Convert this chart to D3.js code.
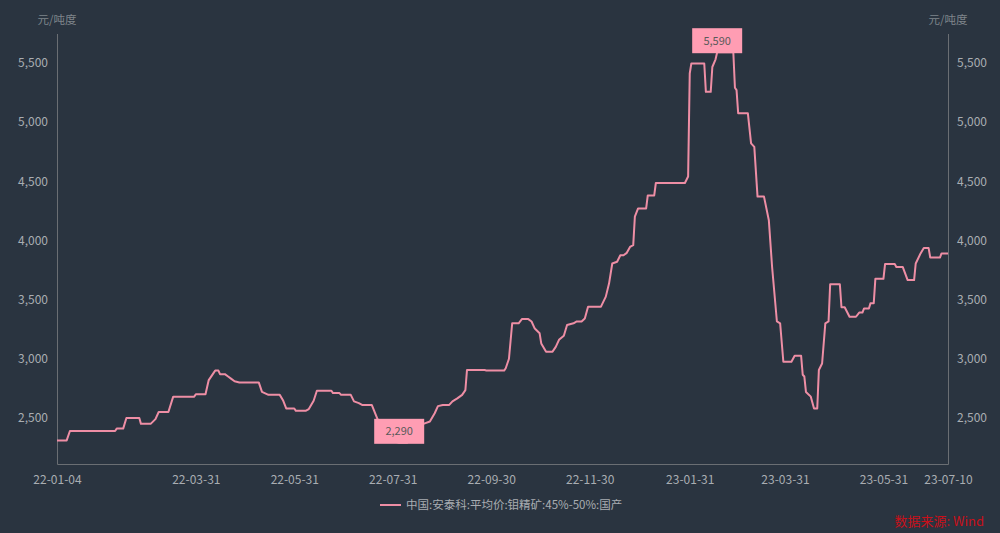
<!DOCTYPE html>
<html>
<head>
<meta charset="utf-8">
<script src="https://cdn.jsdelivr.net/npm/d3@7"></script>
<style>
  html, body { margin: 0; padding: 0; background: #2a3440; }
  svg { display: block; }
  text { font-family: "Noto Sans CJK SC", "Noto Sans", sans-serif; }
</style>
</head>
<body>
<svg id="chart" width="1000" height="533"></svg>
<script>
// ---- Data ----
const seriesName = "中国:安泰科:平均价:钼精矿:45%-50%:国产";
const unitLabel = "元/吨度";
const sourceLabel = "数据来源: Wind";

const dates = [
  "2022-01-04","2022-01-10","2022-01-12","2022-02-09","2022-02-10","2022-02-14","2022-02-16","2022-02-24",
  "2022-02-25","2022-03-03","2022-03-06","2022-03-08","2022-03-14","2022-03-17","2022-03-30","2022-03-31",
  "2022-04-06","2022-04-08","2022-04-10","2022-04-12","2022-04-14","2022-04-15","2022-04-18","2022-04-20",
  "2022-04-22","2022-04-24","2022-04-27","2022-05-09","2022-05-11","2022-05-15","2022-05-22","2022-05-24",
  "2022-05-26","2022-05-31","2022-06-01","2022-06-07","2022-06-09","2022-06-12","2022-06-14","2022-06-23",
  "2022-06-24","2022-06-28","2022-06-29","2022-07-05","2022-07-07","2022-07-10","2022-07-12","2022-07-18",
  "2022-07-21","2022-07-26","2022-07-30","2022-08-04","2022-08-09","2022-08-14","2022-08-19","2022-08-23",
  "2022-08-26","2022-08-28","2022-08-31","2022-09-04","2022-09-06","2022-09-09","2022-09-12","2022-09-14",
  "2022-09-15","2022-09-26","2022-09-27","2022-10-08","2022-10-09","2022-10-11","2022-10-13","2022-10-17",
  "2022-10-19","2022-10-23","2022-10-25","2022-10-27","2022-10-30","2022-10-31","2022-11-03","2022-11-07",
  "2022-11-09","2022-11-11","2022-11-14","2022-11-16","2022-11-20","2022-11-22","2022-11-25","2022-11-27",
  "2022-11-29","2022-12-07","2022-12-10","2022-12-12","2022-12-14","2022-12-17","2022-12-19","2022-12-21",
  "2022-12-23","2022-12-25","2022-12-27","2022-12-28","2022-12-30","2023-01-04","2023-01-05","2023-01-09",
  "2023-01-10","2023-01-28","2023-01-30","2023-01-31","2023-02-01","2023-02-09","2023-02-10","2023-02-13",
  "2023-02-14","2023-02-16","2023-02-17","2023-02-27","2023-02-28","2023-03-01","2023-03-02","2023-03-08",
  "2023-03-10","2023-03-12","2023-03-14","2023-03-18","2023-03-21","2023-03-23","2023-03-26","2023-03-28",
  "2023-03-30","2023-04-04","2023-04-06","2023-04-10","2023-04-11","2023-04-12","2023-04-13","2023-04-16",
  "2023-04-18","2023-04-20","2023-04-21","2023-04-23","2023-04-25","2023-04-27","2023-04-28","2023-05-04",
  "2023-05-05","2023-05-07","2023-05-10","2023-05-14","2023-05-16","2023-05-18","2023-05-19","2023-05-22",
  "2023-05-23","2023-05-25","2023-05-26","2023-05-31","2023-06-01","2023-06-07","2023-06-08","2023-06-12",
  "2023-06-15","2023-06-19","2023-06-20","2023-06-23","2023-06-25","2023-06-28","2023-06-29","2023-07-05",
  "2023-07-06","2023-07-10"
];
const prices = [
  2310,2310,2390,2390,2410,2410,2500,2500,
  2450,2450,2490,2550,2550,2680,2680,2700,
  2700,2820,2860,2900,2900,2870,2870,2850,
  2830,2810,2800,2800,2720,2695,2695,2650,
  2580,2580,2560,2560,2575,2645,2730,2730,
  2710,2710,2695,2695,2640,2625,2610,2610,
  2510,2350,2310,2290,2290,2400,2450,2470,
  2540,2600,2610,2610,2640,2665,2695,2735,
  2905,2905,2900,2900,2920,3000,3300,3300,
  3335,3335,3315,3255,3215,3130,3060,3060,
  3100,3160,3195,3285,3300,3315,3315,3340,
  3440,3440,3525,3635,3805,3820,3875,3875,
  3895,3945,3960,4200,4270,4270,4380,4380,
  4485,4485,4540,5410,5495,5495,5255,5255,
  5465,5530,5590,5590,5290,5270,5075,5075,
  4820,4790,4370,4370,4170,3780,3315,3300,
  2975,2975,3025,3025,2865,2850,2720,2680,
  2580,2580,2905,2960,3300,3315,3630,3630,
  3435,3435,3355,3355,3390,3390,3425,3425,
  3470,3470,3675,3675,3800,3800,3775,3775,
  3665,3665,3805,3890,3935,3935,3855,3855,
  3890,3890
];
const xTickLabels = ["22-01-04","22-03-31","22-05-31","22-07-31","22-09-30","22-11-30","23-01-31","23-03-31","23-05-31","23-07-10"];
const yTickValues = [2500, 3000, 3500, 4000, 4500, 5000, 5500];

// ---- Chart ----
const W = 1000, H = 533;
const margin = { left: 57, right: 52, top: 33.5, bottom: 69 };
const parse = d3.timeParse("%Y-%m-%d");
const parseTick = d3.timeParse("%y-%m-%d");
const data = dates.map((d, i) => ({ date: parse(d), value: prices[i] }));

const svg = d3.select("#chart");
svg.append("rect").attr("width", W).attr("height", H).attr("fill", "#2a3440");

const x = d3.scaleTime()
  .domain([parse("2022-01-04"), parse("2023-07-10")])
  .range([margin.left, W - margin.right]);
const y = d3.scaleLinear()
  .domain([2111, 5748])
  .range([H - margin.bottom, margin.top]);

const axisColor = "#6a6e73";
const labelColor = "#a9adb2";

const gL = svg.append("g").attr("transform", `translate(${margin.left},0)`)
  .call(d3.axisLeft(y).tickValues(yTickValues).tickFormat(d3.format(",")).tickSize(0).tickPadding(9));
const gR = svg.append("g").attr("transform", `translate(${W - margin.right},0)`)
  .call(d3.axisRight(y).tickValues(yTickValues).tickFormat(d3.format(",")).tickSize(0).tickPadding(9));
const gB = svg.append("g").attr("transform", `translate(0,${H - margin.bottom})`)
  .call(d3.axisBottom(x).tickValues(xTickLabels.map(parseTick)).tickFormat(d3.timeFormat("%y-%m-%d")).tickSize(0).tickPadding(11));

[gL, gR, gB].forEach(g => {
  g.select(".domain").attr("stroke", axisColor).attr("stroke-width", 1);
  g.selectAll("text").attr("fill", labelColor).attr("font-size", 12)
    .style("font-family", '"Noto Sans CJK SC", sans-serif');
});

svg.append("text").attr("x", margin.left).attr("y", 24).attr("text-anchor", "middle")
  .attr("fill", "#7f858b").attr("font-size", 11.5).text(unitLabel);
svg.append("text").attr("x", W - margin.right).attr("y", 24).attr("text-anchor", "middle")
  .attr("fill", "#7f858b").attr("font-size", 11.5).text(unitLabel);

const lineColor = "#ee8ea5";
const line = d3.line().x(d => x(d.date)).y(d => y(d.value)).curve(d3.curveLinear);
svg.append("path").datum(data).attr("d", line)
  .attr("fill", "none").attr("stroke", lineColor).attr("stroke-width", 2)
  .attr("stroke-linejoin", "round");

const maxD = data.reduce((a, b) => (b.value > a.value ? b : a));
const minD = data.reduce((a, b) => (b.value < a.value ? b : a));
[maxD, minD].forEach(d => {
  const cx = x(d.date), cy = y(d.value);
  const bw = 50, bh = 25;
  const g = svg.append("g");
  g.append("rect").attr("x", cx - bw / 2).attr("y", cy - bh + 1).attr("width", bw).attr("height", bh)
    .attr("fill", "#ff9db3");
  g.append("text").attr("x", cx).attr("y", cy - bh / 2 + 5).attr("text-anchor", "middle")
    .attr("fill", "#5a5a5a").attr("font-size", 11).text(d3.format(",")(d.value));
});

const lg = svg.append("g").attr("transform", "translate(380,505)");
lg.append("line").attr("x1", 0).attr("x2", 21).attr("y1", 0).attr("y2", 0)
  .attr("stroke", lineColor).attr("stroke-width", 2);
lg.append("text").attr("x", 26).attr("y", 4).attr("fill", labelColor).attr("font-size", 11.5).text(seriesName);

svg.append("text").attr("x", 984).attr("y", 526).attr("text-anchor", "end")
  .attr("fill", "#c8101a").attr("font-size", 13).text(sourceLabel);
</script>
</body>
</html>
